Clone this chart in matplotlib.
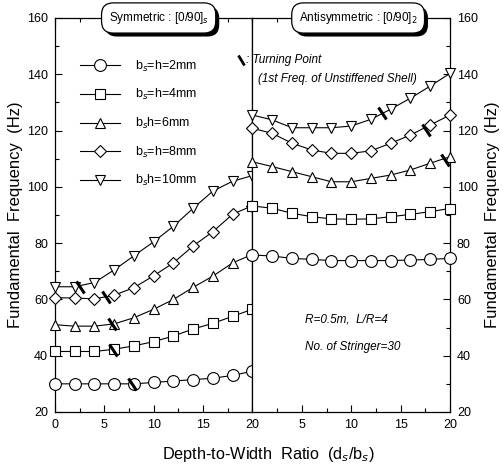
import matplotlib
matplotlib.use("Agg")
import matplotlib.pyplot as plt
from matplotlib.markers import MarkerStyle
from matplotlib.transforms import Affine2D
from matplotlib.ticker import MultipleLocator
import matplotlib.patheffects as pe

plt.rcParams['font.family'] = ['Liberation Sans', 'DejaVu Sans']

# depth-to-width ratio (same grid in both panels)
ratio = [0, 2, 4, 6, 8, 10, 12, 14, 16, 18, 20]

labels = ["b$_s$=h=2mm", "b$_s$=h=4mm", "b$_s$h=6mm", "b$_s$=h=8mm", "b$_s$h=10mm"]
markers = ["o", "s", "^", "D", "v"]
msizes = [8.5, 6.5, 7.5, 6.5, 7.5]

# Symmetric [0/90]s
sym_2mm = [30, 30, 30, 30, 30, 30.5, 31, 31.5, 32, 33, 34.5]
sym_4mm = [41.5, 41.5, 41.5, 42.3, 43.5, 45, 47, 49.5, 51.5, 54, 56.5]
sym_6mm = [51, 50.5, 50.5, 51.3, 53.5, 56.5, 60, 64.3, 68.3, 73, 76]
sym_8mm = [60.6, 60.5, 60.2, 61.5, 64.2, 68.4, 73, 79, 84.1, 90.3, 93.3]
sym_10mm = [64.5, 64.5, 66, 70.5, 75.5, 80.5, 86, 92.4, 98.5, 102, 104]

# Antisymmetric [0/90]2
anti_2mm = [75.8, 75.4, 74.6, 74.2, 73.8, 73.8, 73.8, 73.8, 74, 74.2, 74.6]
anti_4mm = [93.2, 92.4, 90.6, 89.4, 88.6, 88.5, 88.6, 89.4, 90.2, 91.2, 92.3]
anti_6mm = [108.9, 107.2, 105.4, 103.6, 101.8, 101.8, 103, 104.2, 106, 108.4, 110.7]
anti_8mm = [120.8, 119, 115.5, 113.1, 111.9, 111.9, 112.8, 115.5, 118.4, 122, 125.5]
anti_10mm = [125.5, 123.8, 121, 121, 121, 121.6, 124, 127.6, 131.5, 135.8, 140.3]

sym = [sym_2mm, sym_4mm, sym_6mm, sym_8mm, sym_10mm]
anti = [anti_2mm, anti_4mm, anti_6mm, anti_8mm, anti_10mm]

# turning points (1st freq. of unstiffened shell)
tp_sym_x = [7.85, 5.9, 5.75, 5.2, 2.5]
tp_sym_y = [30, 42.2, 51.2, 60.8, 64.5]
tp_anti_x = [13.1, 17.6, 19.5]
tp_anti_y = [126.2, 120.2, 109.6]

tp_marker = MarkerStyle('|', transform=Affine2D().rotate_deg(35))

fig = plt.figure(figsize=(5.03, 4.67), dpi=100)
ax1 = fig.add_axes([0.1093, 0.1178, 0.3926, 0.8437])
ax2 = fig.add_axes([0.5019, 0.1178, 0.3927, 0.8437])

for ax in (ax1, ax2):
    ax.set_xlim(0, 20)
    ax.set_ylim(20, 160)
    ax.xaxis.set_major_locator(MultipleLocator(5))
    ax.xaxis.set_minor_locator(MultipleLocator(2.5))
    ax.yaxis.set_major_locator(MultipleLocator(20))
    ax.yaxis.set_minor_locator(MultipleLocator(10))
    ax.tick_params(which='both', direction='in', labelsize=9, top=True, width=0.8)
    ax.tick_params(which='major', length=5, pad=5)
    ax.tick_params(which='minor', length=3)
    for s in ax.spines.values():
        s.set_linewidth(0.9)

ax1.tick_params(which='both', right=False)
ax2.tick_params(which='both', left=False, labelleft=False, right=True, labelright=True)
ax2.set_xticks([5, 10, 15, 20])

for ys, m, ms, lab in zip(sym, markers, msizes, labels):
    ax1.plot(ratio, ys, color='black', lw=0.8, marker=m, ms=ms, mfc='white',
             mec='black', mew=0.8, label=lab, clip_on=False, zorder=3)
for ys, m, ms in zip(anti, markers, msizes):
    ax2.plot(ratio, ys, color='black', lw=0.8, marker=m, ms=ms, mfc='white',
             mec='black', mew=0.8, clip_on=False, zorder=3)

ax1.plot(tp_sym_x, tp_sym_y, ls='none', marker=tp_marker, ms=11, mew=2.2,
         color='black', zorder=4)
ax2.plot(tp_anti_x, tp_anti_y, ls='none', marker=tp_marker, ms=11, mew=2.2,
         color='black', zorder=4)

leg = ax1.legend(loc='upper left', bbox_to_anchor=(0.07, 0.925), frameon=False,
                 fontsize=9, handlelength=3.2, labelspacing=1.08, handletextpad=1.2)

ax1.set_ylabel("Fundamental  Frequency  (Hz)", fontsize=12, labelpad=3)
ax2.yaxis.set_label_position('right')
ax2.set_ylabel("Fundamental  Frequency  (Hz)", fontsize=12, labelpad=5, rotation=90)
fig.text(0.533, 0.026, "Depth-to-Width  Ratio  (d$_s$/b$_s$)", fontsize=11.7,
         ha='center', va='center')

shadow = [pe.withSimplePatchShadow(offset=(2.5, -2.5), shadow_rgbFace='black', alpha=1)]
for ax, xpos, txt in ((ax1, 10.5, "Symmetric : [0/90]$_s$"),
                      (ax2, 10.7, "Antisymmetric : [0/90]$_2$")):
    t = ax.text(xpos, 160, txt, fontsize=8.5, ha='center', va='center', zorder=10,
                bbox=dict(boxstyle='round,pad=0.6,rounding_size=1.0', fc='white',
                          ec='black', lw=0.9), clip_on=False)
    t.get_bbox_patch().set_path_effects(shadow)

ax2.plot([-1.2], [145], marker=tp_marker, ms=8, mew=2, color='black', clip_on=False)
ax2.text(-0.7, 145, ": Turning Point", fontsize=8.5, style='italic', va='center')
ax2.text(0.6, 138.3, "(1st Freq. of Unstiffened Shell)", fontsize=8.5,
         style='italic', va='center')

ax2.text(5.3, 52.7, "R=0.5m,  L/R=4", fontsize=8.5, style='italic', va='center')
ax2.text(5.3, 43, "No. of Stringer=30", fontsize=8.5, style='italic', va='center')

fig.savefig("out.png", dpi=100)
